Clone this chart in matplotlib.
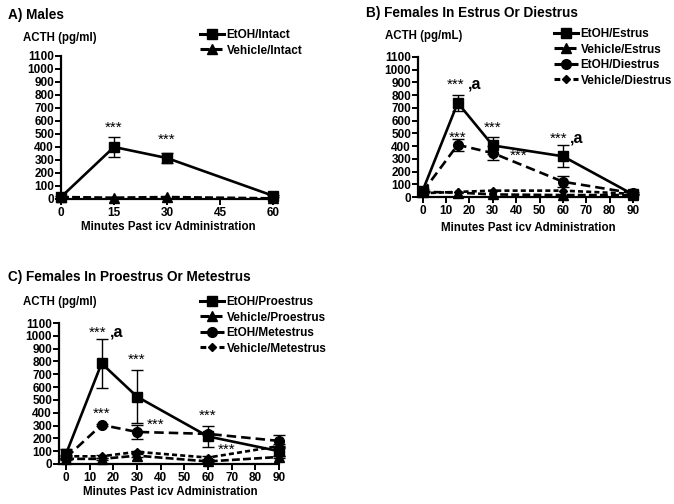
import matplotlib
matplotlib.use("Agg")
import matplotlib.pyplot as plt
from matplotlib.lines import Line2D

plt.rcParams['font.family'] = ['Liberation Sans', 'DejaVu Sans']
plt.rcParams['font.weight'] = 'bold'

# ---------------- data ----------------
yticks = [0, 100, 200, 300, 400, 500, 600, 700, 800, 900, 1000, 1100]

# Panel A: Males
a_x = [0, 15, 30, 60]
a_etoh_intact = [15, 400, 315, 25]
a_etoh_intact_err = [5, 75, 40, 8]
a_veh_intact = [15, 10, 15, 5]
a_xticks = [0, 15, 30, 45, 60]

# Panel B: Estrus / Diestrus
b_x = [0, 15, 30, 60, 90]
b_etoh_estrus = [50, 740, 405, 320, 20]
b_etoh_estrus_err = [10, 65, 70, 85, 5]
b_veh_estrus = [40, 35, 20, 15, 15]
b_etoh_diestrus = [40, 410, 345, 120, 30]
b_etoh_diestrus_err = [8, 45, 55, 45, 8]
b_veh_diestrus = [30, 40, 50, 50, 25]
b_xticks = [0, 10, 20, 30, 40, 50, 60, 70, 80, 90]

# Panel C: Proestrus / Metestrus
c_x = [0, 15, 30, 60, 90]
c_etoh_pro = [80, 785, 525, 215, 100]
c_etoh_pro_err = [40, 190, 205, 85, 40]
c_veh_pro = [40, 40, 65, 20, 55]
c_veh_pro_err = [10, 8, 10, 8, 10]
c_etoh_met = [50, 305, 250, 235, 180]
c_etoh_met_err = [10, 10, 55, 10, 50]
c_veh_met = [60, 60, 95, 50, 140]
c_veh_met_err = [10, 10, 10, 10, 15]

W, H = 674, 504
fig = plt.figure(figsize=(W / 100, H / 100), dpi=100)


def px_axes(x0, y_top, x1, y_bottom):
    return fig.add_axes([x0 / W, 1 - y_bottom / H, (x1 - x0) / W, (y_bottom - y_top) / H])


LW = 1.9
styles = {
    'etoh_solid': dict(ls='-', marker='s', ms=7),
    'veh_long': dict(ls=(0, (3.0, 1.2)), marker='^', ms=6.5),
    'etoh_dash': dict(ls=(0, (3.6, 1.9)), marker='o', ms=7),
    'veh_short': dict(ls=(0, (1.9, 1.2)), marker='D', ms=4.5),
}


def plot_series(ax, x, y, err, key, z=3):
    st = styles[key]
    if err is not None:
        ax.errorbar(x, y, yerr=err, fmt='none', ecolor='black', elinewidth=1.0,
                    capsize=4, capthick=1.0, zorder=z - 1, clip_on=False)
    ax.plot(x, y, color='black', lw=LW, ls=st['ls'], marker=st['marker'],
            ms=st['ms'], mfc='black', mec='black', zorder=z, clip_on=False)


def style_axes(ax, xticks, xlim):
    ax.set_ylim(0, 1100)
    ax.set_xlim(*xlim)
    ax.set_yticks(yticks)
    ax.set_xticks(xticks)
    for s in ['top', 'right']:
        ax.spines[s].set_visible(False)
    for s in ['left', 'bottom']:
        ax.spines[s].set_linewidth(1.6)
    ax.tick_params(axis='both', direction='out', length=4, width=1.4,
                   labelsize=8.5, pad=1)
    ax.tick_params(axis='x', pad=2)
    for lab in ax.get_xticklabels() + ax.get_yticklabels():
        lab.set_fontweight('bold')


def legend_at(x_px, y_px, items):
    handles = []
    labels = []
    for key, label in items:
        st = styles[key]
        handles.append(Line2D([], [], color='black', lw=2.2, ls=st['ls'],
                              marker=st['marker'], ms=st['ms'], mfc='black'))
        labels.append(label)
    fig.legend(handles, labels, loc='upper left',
               bbox_to_anchor=(x_px / W, 1 - y_px / H),
               frameon=False, handlelength=2.0, handletextpad=0.25,
               labelspacing=0.3, borderpad=0, borderaxespad=0,
               prop={'weight': 'bold', 'size': 8.5})


def stars(ax, x, y, size=11):
    ax.text(x, y, '***', ha='center', va='center', fontsize=size, fontweight='normal')


def suffix_a(ax, x, y):
    ax.text(x, y, ',a', ha='left', va='center', fontsize=11.5, fontweight='bold')


TITLE = 9.8
YLAB = 8.3
XLAB = 8.3

# ---------------- Panel A ----------------
axA = px_axes(61, 56, 273, 199)
plot_series(axA, a_x, a_veh_intact, None, 'veh_long')
plot_series(axA, a_x, a_etoh_intact, a_etoh_intact_err, 'etoh_solid', z=4)
style_axes(axA, a_xticks, (0, 60))
stars(axA, 15, 550)
stars(axA, 30, 455)
fig.text(8 / W, 1 - 15 / H, 'A) Males', fontsize=TITLE, fontweight='bold', va='center')
fig.text(23 / W, 1 - 38 / H, 'ACTH (pg/ml)', fontsize=YLAB, fontweight='bold', va='center')
fig.text(168 / W, 1 - 227 / H, 'Minutes Past icv Administration', fontsize=XLAB,
         fontweight='bold', ha='center', va='center')
legend_at(200, 29, [('etoh_solid', 'EtOH/Intact'), ('veh_long', 'Vehicle/Intact')])

# ---------------- Panel B ----------------
axB = px_axes(418, 57, 633, 197)
plot_series(axB, b_x, b_veh_estrus, None, 'veh_long')
plot_series(axB, b_x, b_veh_diestrus, None, 'veh_short')
plot_series(axB, b_x, b_etoh_diestrus, b_etoh_diestrus_err, 'etoh_dash')
plot_series(axB, b_x, b_etoh_estrus, b_etoh_estrus_err, 'etoh_solid', z=5)
style_axes(axB, b_xticks, (-2, 90))
stars(axB, 14, 885)
suffix_a(axB, 19.5, 890)
stars(axB, 15, 465)
stars(axB, 30, 540)
stars(axB, 41, 320)
stars(axB, 58, 460)
suffix_a(axB, 63, 465)
fig.text(366 / W, 1 - 13 / H, 'B) Females In Estrus Or Diestrus', fontsize=TITLE,
         fontweight='bold', va='center')
fig.text(385 / W, 1 - 36 / H, 'ACTH (pg/mL)', fontsize=YLAB, fontweight='bold', va='center')
fig.text(528 / W, 1 - 228 / H, 'Minutes Past icv Administration', fontsize=XLAB,
         fontweight='bold', ha='center', va='center')
legend_at(554, 28, [('etoh_solid', 'EtOH/Estrus'), ('veh_long', 'Vehicle/Estrus'),
                    ('etoh_dash', 'EtOH/Diestrus'), ('veh_short', 'Vehicle/Diestrus')])

# ---------------- Panel C ----------------
axC = px_axes(59, 323, 279, 464)
plot_series(axC, c_x, c_veh_pro, c_veh_pro_err, 'veh_long')
plot_series(axC, c_x, c_veh_met, c_veh_met_err, 'veh_short')
plot_series(axC, c_x, c_etoh_met, c_etoh_met_err, 'etoh_dash')
plot_series(axC, c_x, c_etoh_pro, c_etoh_pro_err, 'etoh_solid', z=5)
style_axes(axC, b_xticks, (-3, 90))
stars(axC, 13.5, 1020)
suffix_a(axC, 18.5, 1030)
stars(axC, 30, 815)
stars(axC, 15, 390)
stars(axC, 38, 305)
stars(axC, 60, 375)
stars(axC, 68, 110)
fig.text(8 / W, 1 - 277 / H, 'C) Females In Proestrus Or Metestrus', fontsize=TITLE,
         fontweight='bold', va='center')
fig.text(23 / W, 1 - 302 / H, 'ACTH (pg/ml)', fontsize=YLAB, fontweight='bold', va='center')
fig.text(170 / W, 1 - 492 / H, 'Minutes Past icv Administration', fontsize=XLAB,
         fontweight='bold', ha='center', va='center')
legend_at(200, 296, [('etoh_solid', 'EtOH/Proestrus'), ('veh_long', 'Vehicle/Proestrus'),
                     ('etoh_dash', 'EtOH/Metestrus'), ('veh_short', 'Vehicle/Metestrus')])

fig.savefig('out.png', dpi=100)
